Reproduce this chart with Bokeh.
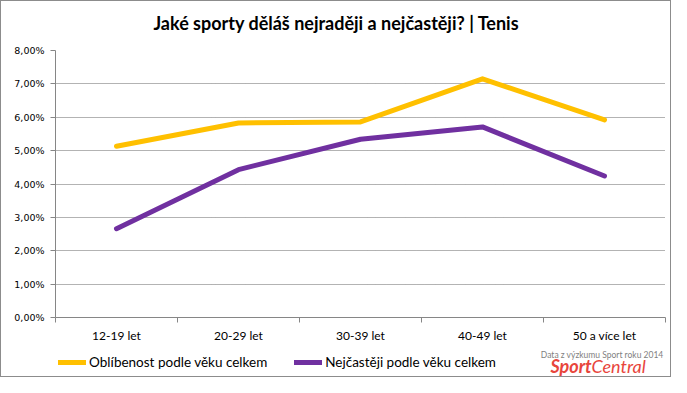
from bokeh.plotting import figure
from bokeh.models import (Range1d, FixedTicker, Label, Legend, LegendItem)
from bokeh.layouts import column
from bokeh.embed import file_html
from bokeh.resources import INLINE

categories = ["12-19 let", "20-29 let", "30-39 let", "40-49 let", "50 a více let"]
oblibenost = [5.13, 5.83, 5.86, 7.15, 5.92]
nejcasteji = [2.66, 4.43, 5.34, 5.71, 4.24]
y_ticks = [0, 1, 2, 3, 4, 5, 6, 7, 8]
y_tick_labels = ["0,00%", "1,00%", "2,00%", "3,00%", "4,00%", "5,00%", "6,00%", "7,00%", "8,00%"]
series_names = ["Oblíbenost podle věku celkem", "Nejčastěji podle věku celkem"]
colors = ["#FFC000", "#7030A0"]
title_text = "Jaké sporty děláš nejraději a nejčastěji? | Tenis"
source_text = "Data z výzkumu Sport roku 2014"

W = 669
H0, H1, H2 = 39, 305, 31
ML, MR, MT, MB = 54, 5, 10, 27

x_pos = [i + 0.5 for i in range(len(categories))]


def strip(h):
    f = figure(width=W, height=h, output_backend="svg", toolbar_location=None,
               x_axis_type=None, y_axis_type=None, x_range=Range1d(0, 1), y_range=Range1d(100, 101),
               min_border_left=ML, min_border_right=MR, min_border_top=0, min_border_bottom=0)
    f.outline_line_color = None
    f.border_fill_color = "white"
    f.background_fill_color = "white"
    return f


# --- title strip (frame aligned with the chart's frame: x measured from frame left)
p0 = strip(H0)
p0.add_layout(Label(x=335 - ML, y=H0 - 21, x_units="screen", y_units="screen", text=title_text,
                    text_align="center", text_baseline="middle", text_font="Lato",
                    text_font_style="bold", text_font_size="18px", text_color="#000000"))

# --- main chart
p = figure(width=W, height=H1, output_backend="svg", toolbar_location=None,
           x_range=Range1d(0, len(categories)), y_range=Range1d(0, 8),
           min_border_left=ML, min_border_right=MR, min_border_top=MT, min_border_bottom=MB)
p.outline_line_color = None
p.background_fill_color = "white"
p.border_fill_color = "white"

axis_col = "#868686"
p.yaxis.ticker = FixedTicker(ticks=y_ticks, minor_ticks=[])
p.yaxis.major_label_overrides = {t: l for t, l in zip(y_ticks, y_tick_labels)}
p.yaxis.axis_line_color = axis_col
p.yaxis.major_tick_line_color = axis_col
p.yaxis.major_tick_out = 5
p.yaxis.major_tick_in = 0
p.yaxis.minor_tick_line_color = None
p.yaxis.major_label_text_font = "DejaVu Sans"
p.yaxis.major_label_text_font_size = "9.5px"
p.yaxis.major_label_text_color = "#000000"
p.yaxis.major_label_standoff = 6

p.xaxis.ticker = FixedTicker(ticks=x_pos, minor_ticks=list(range(len(categories) + 1)))
p.xaxis.major_label_overrides = {x: c for x, c in zip(x_pos, categories)}
p.xaxis.axis_line_color = axis_col
p.xaxis.major_tick_line_color = None
p.xaxis.major_tick_out = 0
p.xaxis.major_tick_in = 0
p.xaxis.minor_tick_line_color = axis_col
p.xaxis.minor_tick_out = 5
p.xaxis.minor_tick_in = 0
p.xaxis.major_label_text_font = "Lato"
p.xaxis.major_label_text_font_size = "12px"
p.xaxis.major_label_text_color = "#000000"
p.xaxis.major_label_standoff = 5

p.xgrid.grid_line_color = None
p.ygrid.ticker = FixedTicker(ticks=y_ticks[1:])
p.ygrid.grid_line_color = "#666666"
p.ygrid.grid_line_dash = "1 1"
p.ygrid.grid_line_width = 1

p.line(x_pos, oblibenost, line_color=colors[0], line_width=5, line_cap="round", line_join="round")
p.line(x_pos, nejcasteji, line_color=colors[1], line_width=5, line_cap="round", line_join="round")

# --- legend + source strip (legend proxies use the same series; they fall outside this strip's range)
p2 = strip(H2)
k1 = p2.line(x_pos, oblibenost, line_color=colors[0], line_width=5, line_cap="round")
k2 = p2.line(x_pos, nejcasteji, line_color=colors[1], line_width=5, line_cap="round")
legend = Legend(items=[LegendItem(label=series_names[0], renderers=[k1]),
                       LegendItem(label=series_names[1], renderers=[k2])],
                orientation="horizontal", location=(3, 6),
                margin=0, padding=0, spacing=27, glyph_width=28, glyph_height=16,
                label_standoff=3, border_line_color=None, background_fill_alpha=0,
                label_text_font="Lato", label_text_font_size="13.5px", label_text_color="#000000")
p2.add_layout(legend, "center")

p2.add_layout(Label(x=662 - ML, y=H2 - 9, x_units="screen", y_units="screen", text=source_text,
                    text_align="right", text_baseline="middle", text_font="Lato",
                    text_font_size="8.5px", text_color="#7f7f7f"))
p2.add_layout(Label(x=549 - ML, y=11, x_units="screen", y_units="screen", text="Sport",
                    text_align="left", text_baseline="middle", text_font="Lato",
                    text_font_style="bold italic", text_font_size="18px", text_color="#E8453C"))
p2.add_layout(Label(x=590 - ML, y=11, x_units="screen", y_units="screen", text="Central",
                    text_align="left", text_baseline="middle", text_font="Lato",
                    text_font_style="italic", text_font_size="18px", text_color="#E8453C"))

layout = column(p0, p, p2, spacing=0)
layout.styles = {"border": "1px solid #8c8c8c", "background-color": "white"}

open("out.html", "w").write(file_html(layout, INLINE))
